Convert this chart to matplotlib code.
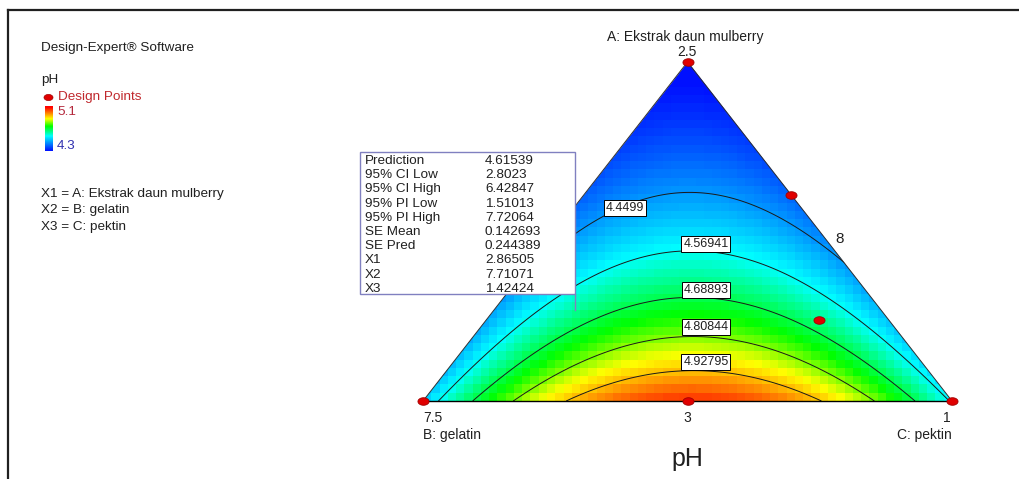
import numpy as np
import matplotlib
matplotlib.use("Agg")
import matplotlib.pyplot as plt
from matplotlib.colors import LinearSegmentedColormap
from matplotlib.patches import Polygon, Rectangle

plt.rcParams['font.family'] = ['Liberation Sans', 'DejaVu Sans']

# Scheffe special cubic model for pH (pseudo components A, B, C)
coef_lin = [4.28, 4.51, 4.559]     # A, B, C
coef_ab, coef_ac, coef_bc = 0.08, 0.022, 2.05
coef_abc = -0.7
z_low, z_high = 4.3, 5.1

levels = [4.4499, 4.56941, 4.68893, 4.80844, 4.92795]

# design points (pseudo fractions of A, B, C)
pts_a = [1.0, 0.608, 0.239, 0.0, 0.0, 0.0]
pts_b = [0.0, 0.0, 0.132, 1.0, 0.5, 0.0]
pts_c = [0.0, 0.392, 0.629, 0.0, 0.5, 1.0]

info_names = ["Prediction", "95% CI Low", "95% CI High", "95% PI Low", "95% PI High",
              "SE Mean", "SE Pred", "X1", "X2", "X3"]
info_vals = ["4.61539", "2.8023", "6.42847", "1.51013", "7.72064",
             "0.142693", "0.244389", "2.86505", "7.71071", "1.42424"]

factor_lines = ["X1 = A: Ekstrak daun mulberry", "X2 = B: gelatin", "X3 = C: pektin"]


def ph_model(a, b, c):
    return (coef_lin[0] * a + coef_lin[1] * b + coef_lin[2] * c
            + coef_ab * a * b + coef_ac * a * c + coef_bc * b * c + coef_abc * a * b * c)


def to_abc(x, y):
    a = y
    c = x - a / 2
    return a, 1 - a - c, c


cmap = LinearSegmentedColormap.from_list(
    "de", [(0.0, "#0010ff"), (0.33, "#00ffff"), (0.55, "#00ff00"),
           (0.72, "#ffff00"), (0.98, "#ff0000"), (1.0, "#ff0000")])

W, H = 1019, 479
fig = plt.figure(figsize=(W / 100, H / 100), dpi=100)

# ternary area
ax = fig.add_axes([423 / W, 1 - 401 / H, 529 / W, 339 / H])
ax.set_xlim(0, 1)
ax.set_ylim(0, 1)
ax.axis("off")

tri = Polygon([[0, 0], [1, 0], [0.5, 1]], closed=True, facecolor="none", edgecolor="none")
ax.add_patch(tri)

# coarse cells like the original render
nx, ny = 64, 41
xe = np.linspace(0, 1, nx + 1)
ye = np.linspace(0, 1, ny + 1)
xc, yc = np.meshgrid((xe[:-1] + xe[1:]) / 2, (ye[:-1] + ye[1:]) / 2)
zc = ph_model(*to_abc(xc, yc))
mesh = ax.pcolormesh(xe, ye, zc, cmap=cmap, vmin=z_low, vmax=z_high, shading="flat")
mesh.set_clip_path(tri)

xf, yf = np.meshgrid(np.linspace(0, 1, 300), np.linspace(0, 1, 300))
zf = ph_model(*to_abc(xf, yf))
cs = ax.contour(xf, yf, zf, levels=levels, colors="#1a1a1a", linewidths=0.7)
cs.set_clip_path(tri)

ax.plot([0, 1], [0, 0], color="black", lw=1.0, clip_on=False)
ax.plot([0, 0.5, 1], [0, 1, 0], color="#303030", lw=0.7, clip_on=False)

tt = np.linspace(0, 2 * np.pi, 40)
ell = np.column_stack([np.cos(tt), 0.68 * np.sin(tt)])
pa = np.array(pts_a)
pc = np.array(pts_c)
ax.plot(pc + pa / 2, pa, ls="none", marker=ell, ms=8, mfc="#e00000", mec="#a00000",
        mew=0.6, clip_on=False, zorder=5)

# overlay for texts in pixel units
ax_t = fig.add_axes([0, 0, 1, 1])
ax_t.set_xlim(0, W)
ax_t.set_ylim(H, 0)
ax_t.axis("off")
ax_t.patch.set_alpha(0)

ax_t.plot([8, W], [10, 10], color="#202020", lw=1.6)
ax_t.plot([8, 8], [10, H], color="#202020", lw=1.6)

txt = "#202020"
fs = 9.7
ax_t.text(41.5, 47.7, "Design-Expert® Software", fontsize=fs, color=txt, va="center")
ax_t.text(41.5, 80, "pH", fontsize=fs, color=txt, va="center")
ax_t.plot([48], [97], ls="none", marker=ell, ms=6.5, mfc="#e00000", mec="#a00000", mew=0.5)
ax_t.text(58, 97, "Design Points", fontsize=fs, color="#c0282d", va="center")
ax_t.text(57, 112, "5.1", fontsize=fs, color="#b4283c", va="center")
ax_t.text(57, 146, "4.3", fontsize=fs, color="#3030b0", va="center")
for i, s in enumerate(factor_lines):
    ax_t.text(41.5, 194 + i * 16.5, s, fontsize=fs, color=txt, va="center")

cax = fig.add_axes([44.5 / W, 1 - 151 / H, 8 / W, 45 / H])
cax.imshow(np.linspace(0, 1, 100).reshape(-1, 1), cmap=cmap, aspect="auto", origin="lower")
cax.axis("off")

# axis labels
ax_t.text(685, 37, "A: Ekstrak daun mulberry", fontsize=10, color=txt, ha="center", va="center")
ax_t.text(687, 52, "2.5", fontsize=10, color=txt, ha="center", va="center")
ax_t.text(423, 418, "7.5", fontsize=10, color=txt, ha="left", va="center")
ax_t.text(423, 435, "B: gelatin", fontsize=10, color=txt, ha="left", va="center")
ax_t.text(687, 418, "3", fontsize=10, color=txt, ha="center", va="center")
ax_t.text(951, 418, "1", fontsize=10, color=txt, ha="right", va="center")
ax_t.text(952, 435, "C: pektin", fontsize=10, color=txt, ha="right", va="center")
ax_t.text(840, 239, "8", fontsize=11, color=txt, ha="center", va="center")
ax_t.text(687, 466, "pH", fontsize=18, color=txt, ha="center", va="baseline")

# contour labels
label_pos = [(625, 208), (706, 244), (706, 290), (706, 327), (706, 362)]
for lv, (lx, ly) in zip(levels, label_pos):
    ax_t.text(lx, ly, str(lv), fontsize=9, color=txt, ha="center", va="center",
              bbox=dict(boxstyle="square,pad=0.15", fc="white", ec="black", lw=0.7))

# prediction flag box
ax_t.add_patch(Rectangle((360, 152), 215, 142, facecolor="white", edgecolor="#8080c0", lw=1))
ax_t.plot([575, 575], [294, 310], color="#8080c0", lw=1)
for i, (n, v) in enumerate(zip(info_names, info_vals)):
    y = 161 + i * 14.2
    ax_t.text(365, y, n, fontsize=fs, color=txt, va="center")
    ax_t.text(485, y, v, fontsize=fs, color=txt, va="center")

fig.savefig("out.png", dpi=100)
